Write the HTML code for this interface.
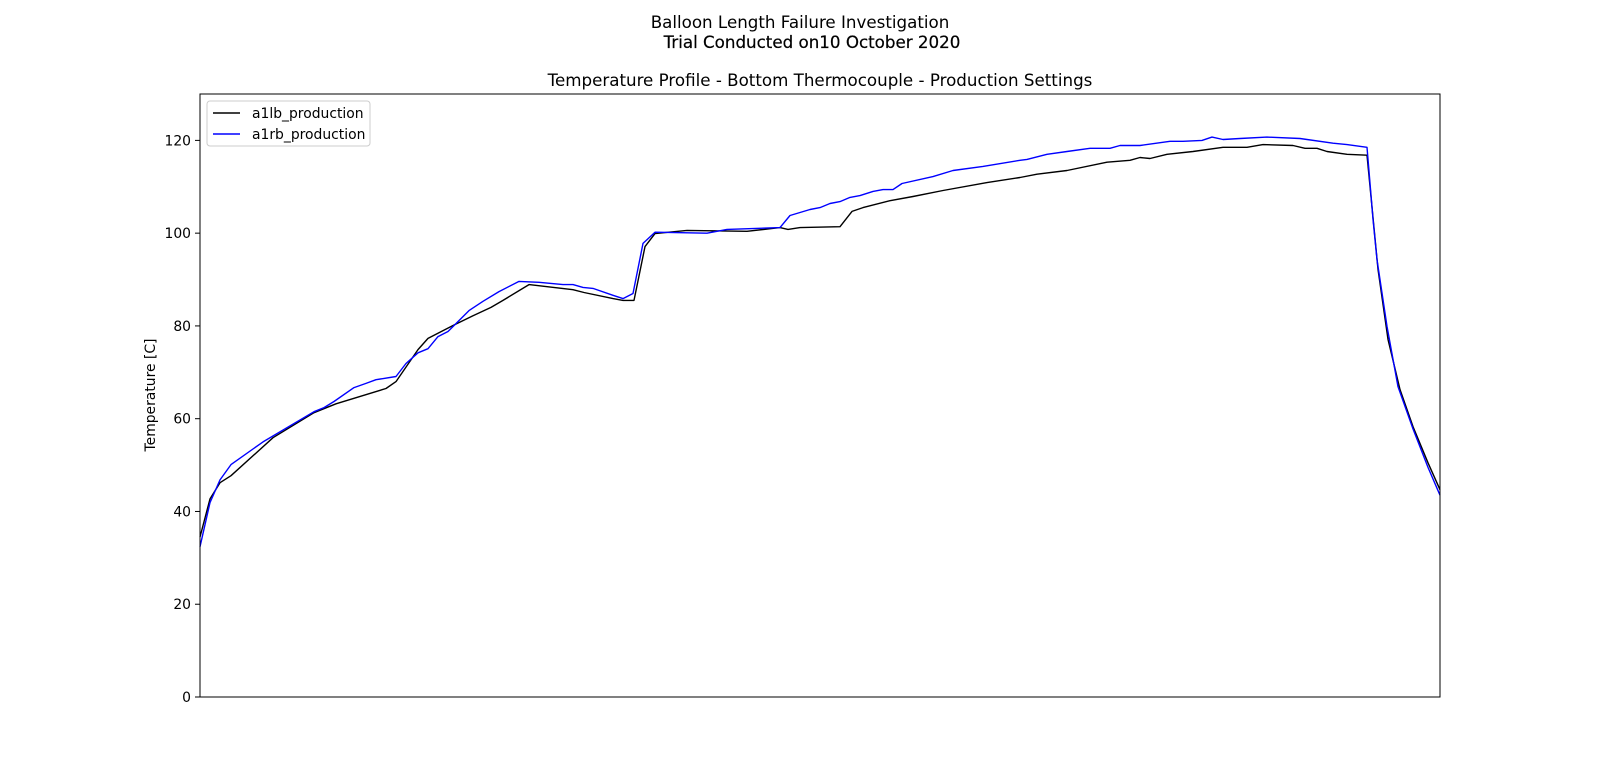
<!DOCTYPE html>
<html><head><meta charset="utf-8"><style>
html,body{margin:0;padding:0;background:#fff;}
svg{display:block;font-family:"DejaVu Sans","Liberation Sans",sans-serif;}
</style></head><body>
<svg id="chart" width="1600" height="783" viewBox="0 0 1600 783" xmlns="http://www.w3.org/2000/svg">
<rect width="1600" height="783" fill="#fff"/>
<text x="800" y="28" text-anchor="middle" font-size="16.7">Balloon Length Failure Investigation</text>
<text x="812" y="48" text-anchor="middle" font-size="16.7" stroke="#000" stroke-width="0.2">Trial Conducted on10 October 2020</text>
<text x="820" y="86" text-anchor="middle" font-size="16.7">Temperature Profile - Bottom Thermocouple - Production Settings</text>
<text transform="translate(155,395) rotate(-90)" text-anchor="middle" font-size="13.9">Temperature [C]</text>
<g id="yticks"></g>
<g id="series"></g>
<rect x="200" y="94" width="1240" height="603" fill="none" stroke="#000" stroke-width="1"/>
<g>
<rect x="207" y="101" width="163" height="45" rx="3" fill="#fff" fill-opacity="0.8" stroke="#ccc"/>
<line x1="213" y1="113" x2="240" y2="113" stroke="#000" stroke-width="1.4"/>
<text x="252" y="118" font-size="13.9">a1lb_production</text>
<line x1="213" y1="134" x2="240" y2="134" stroke="#0000ff" stroke-width="1.4"/>
<text x="252" y="139" font-size="13.9">a1rb_production</text>
</g>
</svg>
<script>
const yTicks = [0, 20, 40, 60, 80, 100, 120];
const blackT = [0,1,2,3.1,7.3,11.4,13.6,18.6,19.6,21.8,22.8,25.3,27.3,29.1,30.3,32.9,37.3,38.4,41.3,42.3,43.4,44.5,45.5,48.7,54.7,58,58.8,60,64,65.2,66.3,69,71.3,74.3,78.7,82,83.7,86.7,90.7,93,94,95,96.7,99.3,102.3,104.7,106.3,109.3,110.5,111.7,112.7,114.7,116.7,117.8,118.8,120,121.3,122.8,124];
const blackV = [34.5,42.7,46.2,47.7,55.9,61.3,63.2,66.5,68,74.9,77.3,80.1,82.2,84,85.5,88.9,87.8,87.2,85.9,85.5,85.5,97.1,99.9,100.6,100.4,101.2,100.8,101.2,101.4,104.7,105.5,107,107.9,109.2,110.9,112,112.7,113.5,115.3,115.7,116.3,116.1,117,117.6,118.5,118.5,119.1,118.9,118.3,118.3,117.6,117,116.8,92.2,77.1,66.3,58.3,50.5,44.7];
const blueT = [0,1,2,3.1,6.3,11.4,12.4,13.4,15.4,16.6,17.6,19.6,20.6,21.8,22.8,23.8,24.8,26.9,28.3,29.9,31.9,33.9,36.3,37.3,38.3,39.3,41.3,42.3,43.3,44.3,45.5,50.7,52.7,58,59,61,62,63,64,65,66,67.3,68.3,69.3,70.2,73.3,75.3,78.3,82,82.7,84.7,86.7,89,91,92,94,97,98.3,100.2,101.2,102.3,104,106.7,110,113.3,114.7,116.7,117.3,117.7,118.7,119.8,121.3,122.8,124];
const blueV = [32.4,41.9,46.8,50.1,55,61.5,62.4,63.7,66.7,67.6,68.4,69.1,71.9,74.2,75.1,77.7,78.8,83.3,85.3,87.4,89.6,89.4,88.9,88.9,88.3,88.1,86.6,85.9,87,97.8,100.2,100,100.8,101.2,103.8,105.1,105.5,106.4,106.8,107.7,108.1,109,109.4,109.4,110.7,112.2,113.5,114.4,115.7,115.9,117,117.6,118.3,118.3,118.9,118.9,119.8,119.8,120,120.7,120.2,120.4,120.7,120.4,119.4,119.1,118.5,103,94.3,79.9,66.9,57.8,49.5,43.5];

const X0=200, X1=1440, Y0=697, Y1=94, TMAX=124, VMAX=130;
const xs = t => X0 + (t/TMAX)*(X1-X0);
const ys = v => Y0 - (v/VMAX)*(Y0-Y1);
const NS="http://www.w3.org/2000/svg";

const yt=document.getElementById('yticks');
yTicks.forEach(v=>{
  const l=document.createElementNS(NS,'line');
  
  
  l.setAttribute('x1',X0-5);l.setAttribute('x2',X0);
  l.setAttribute('y1',ys(v));l.setAttribute('y2',ys(v));
  l.setAttribute('stroke','#000');
  yt.appendChild(l);
  const tx=document.createElementNS(NS,'text');
  
  
  tx.setAttribute('x',X0-9);tx.setAttribute('y',ys(v)+5);
  tx.setAttribute('text-anchor','end');tx.setAttribute('font-size','13.9');
  tx.textContent=v;
  yt.appendChild(tx);
});

const sg=document.getElementById('series');
function drawLine(T,V,color,name){
  const p=document.createElementNS(NS,'polyline');
  
  
  p.setAttribute('points',T.map((t,i)=>xs(t).toFixed(1)+','+ys(V[i]).toFixed(1)).join(' '));
  p.setAttribute('fill','none');p.setAttribute('stroke',color);
  p.setAttribute('stroke-width','1.4');p.setAttribute('stroke-linejoin','round');
  sg.appendChild(p);
}
drawLine(blackT,blackV,'#000','a1lb-production-line');
drawLine(blueT,blueV,'#0000ff','a1rb-production-line');
</script>
</body></html>
